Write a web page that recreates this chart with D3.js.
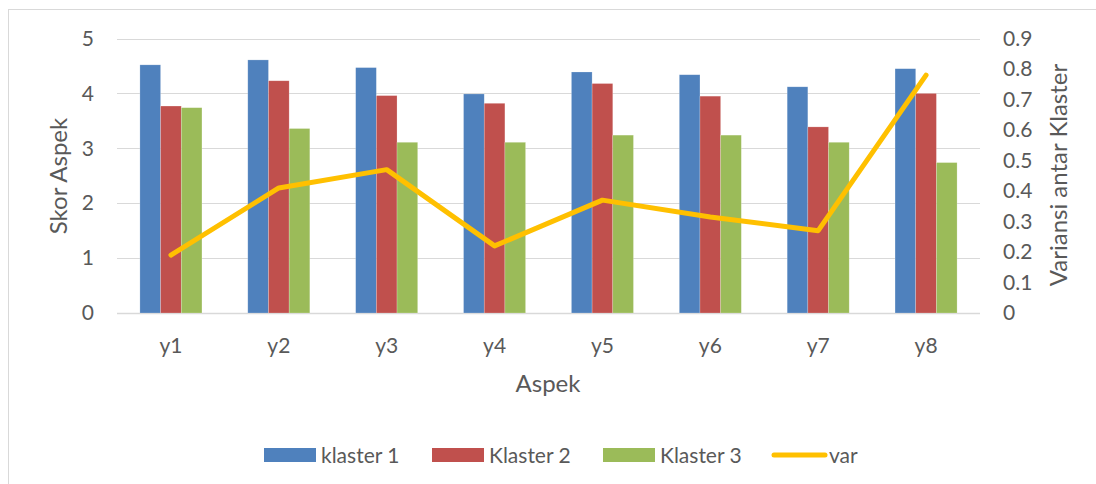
<!DOCTYPE html>
<html>
<head>
<meta charset="utf-8">
<script src="https://cdn.jsdelivr.net/npm/d3@7"></script>
<style>
  html, body { margin: 0; padding: 0; background: #fff; }
  svg { display: block; font-family: Lato, "Open Sans", sans-serif; }
</style>
</head>
<body>
<svg id="chart" width="1096" height="484"></svg>
<script>
// data
const aspek = ["y1", "y2", "y3", "y4", "y5", "y6", "y7", "y8"];
const klaster1 = [4.52, 4.61, 4.47, 3.99, 4.39, 4.34, 4.12, 4.45];
const klaster2 = [3.77, 4.23, 3.96, 3.82, 4.18, 3.95, 3.39, 4.00];
const klaster3 = [3.74, 3.36, 3.11, 3.11, 3.24, 3.24, 3.11, 2.74];
const varians = [0.19, 0.41, 0.47, 0.22, 0.37, 0.315, 0.27, 0.78];
const leftTicks = [0, 1, 2, 3, 4, 5];
const rightTicks = [0, 0.1, 0.2, 0.3, 0.4, 0.5, 0.6, 0.7, 0.8, 0.9];

const seriesNames = ["klaster 1", "Klaster 2", "Klaster 3"];
const seriesColors = ["#4F81BD", "#C0504D", "#9BBB59"];
const lineColor = "#FFC000";
const textColor = "#595959";
const gridColor = "#D9D9D9";

const grid = { top: 38.5, left: 117, right: 980, bottom: 313 };

const svg = d3.select("#chart");

// outer chart border (only top and left are visible in the frame)
svg.append("rect")
  .attr("x", 8.5).attr("y", 9.5)
  .attr("width", 1200).attr("height", 600)
  .attr("fill", "none")
  .attr("stroke", gridColor)
  .attr("stroke-width", 1);

const x = d3.scaleBand()
  .domain(aspek)
  .range([grid.left, grid.right])
  .paddingInner(0.425)
  .paddingOuter(0.2125);

const xInner = d3.scaleBand()
  .domain(seriesNames)
  .range([0, x.bandwidth()]);

const yLeft = d3.scaleLinear().domain([0, 5]).range([grid.bottom, grid.top]);
const yRight = d3.scaleLinear().domain([0, 0.9]).range([grid.bottom, grid.top]);

// gridlines
svg.append("g")
  .selectAll("line")
  .data(leftTicks)
  .join("line")
  .attr("x1", grid.left).attr("x2", grid.right)
  .attr("y1", d => Math.round(yLeft(d)) + 0.5)
  .attr("y2", d => Math.round(yLeft(d)) + 0.5)
  .attr("stroke", gridColor)
  .attr("stroke-width", d => d === 0 ? 1.5 : 1);

// bars
const rows = aspek.map((a, i) => ({
  name: a,
  values: [klaster1[i], klaster2[i], klaster3[i]]
}));

const groups = svg.append("g")
  .selectAll("g")
  .data(rows)
  .join("g")
  .attr("transform", d => `translate(${x(d.name)},0)`);

groups.selectAll("rect")
  .data(d => d.values.map((v, j) => ({ key: seriesNames[j], value: v, color: seriesColors[j] })))
  .join("rect")
  .attr("x", d => xInner(d.key))
  .attr("width", xInner.bandwidth())
  .attr("y", d => yLeft(d.value))
  .attr("height", d => yLeft(0) - yLeft(d.value))
  .attr("fill", d => d.color)
  .attr("stroke", "#fff")
  .attr("stroke-opacity", 0.35)
  .attr("stroke-width", 0.6);

// variance line on right axis
const line = d3.line()
  .x((d, i) => x(aspek[i]) + x.bandwidth() / 2)
  .y(d => yRight(d));

svg.append("path")
  .datum(varians)
  .attr("d", line)
  .attr("fill", "none")
  .attr("stroke", lineColor)
  .attr("stroke-width", 5)
  .attr("stroke-linejoin", "round")
  .attr("stroke-linecap", "round");

// axes
const leftAxis = d3.axisLeft(yLeft)
  .tickValues(leftTicks)
  .tickSize(0)
  .tickPadding(0)
  .tickFormat(d3.format("d"));

const gl = svg.append("g")
  .attr("transform", `translate(${94},0)`)
  .call(leftAxis);
gl.select(".domain").remove();
gl.selectAll("text")
  .attr("fill", textColor)
  .attr("font-size", 21)
  .attr("font-family", "Lato, sans-serif");

const rightAxis = d3.axisRight(yRight)
  .tickValues(rightTicks)
  .tickSize(0)
  .tickPadding(0)
  .tickFormat(d => d === 0 ? "0" : d3.format(".1f")(d));

const gr = svg.append("g")
  .attr("transform", `translate(${1003},0)`)
  .call(rightAxis);
gr.select(".domain").remove();
gr.selectAll("text")
  .attr("fill", textColor)
  .attr("font-size", 21)
  .attr("font-family", "Lato, sans-serif");

const bottomAxis = d3.axisBottom(x).tickSize(0).tickPadding(0);
const gb = svg.append("g")
  .attr("transform", `translate(0,${338})`)
  .call(bottomAxis);
gb.select(".domain").remove();
gb.selectAll("text")
  .attr("fill", textColor)
  .attr("font-size", 21)
  .attr("font-family", "Lato, sans-serif");

// axis titles
svg.append("text")
  .attr("transform", `translate(${67},${176}) rotate(-90)`)
  .attr("text-anchor", "middle")
  .attr("fill", textColor)
  .attr("font-size", 24)
  .text("Skor Aspek");

svg.append("text")
  .attr("transform", `translate(${1067},${175}) rotate(-90)`)
  .attr("text-anchor", "middle")
  .attr("fill", textColor)
  .attr("font-size", 24)
  .text("Variansi antar Klaster");

svg.append("text")
  .attr("x", 548).attr("y", 392)
  .attr("text-anchor", "middle")
  .attr("fill", textColor)
  .attr("font-size", 24)
  .text("Aspek");

// legend
const legendItems = [
  { label: seriesNames[0], color: seriesColors[0], type: "bar", x: 264 },
  { label: seriesNames[1], color: seriesColors[1], type: "bar", x: 432 },
  { label: seriesNames[2], color: seriesColors[2], type: "bar", x: 603 },
  { label: "var", color: lineColor, type: "line", x: 772 }
];

const legend = svg.append("g")
  .selectAll("g")
  .data(legendItems)
  .join("g")
  .attr("transform", d => `translate(${d.x},${455})`);

legend.filter(d => d.type === "bar")
  .append("rect")
  .attr("x", 0).attr("y", -7)
  .attr("width", 52).attr("height", 14)
  .attr("fill", d => d.color);

legend.filter(d => d.type === "line")
  .append("line")
  .attr("x1", 2).attr("x2", 53)
  .attr("y1", 0).attr("y2", 0)
  .attr("stroke", d => d.color)
  .attr("stroke-width", 5)
  .attr("stroke-linecap", "round");

legend.append("text")
  .attr("x", 57)
  .attr("y", 7.5)
  .attr("fill", textColor)
  .attr("font-size", 21)
  .text(d => d.label);
</script>
</body>
</html>
